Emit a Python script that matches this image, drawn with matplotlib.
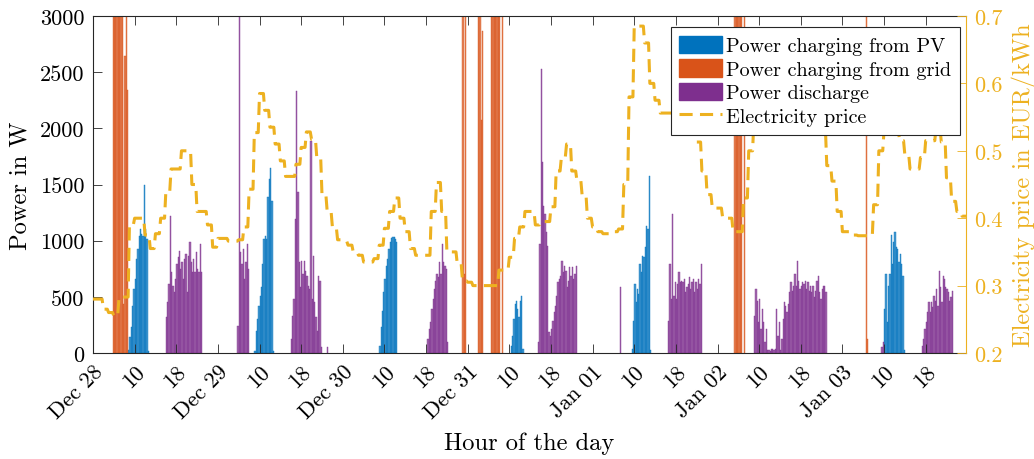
import numpy as np
import matplotlib
matplotlib.use("Agg")
import matplotlib.pyplot as plt
from matplotlib.colors import to_rgba
from matplotlib.patches import Patch
from matplotlib.lines import Line2D

plt.rcParams['font.family'] = ['cmr10', 'DejaVu Serif']
plt.rcParams['mathtext.fontset'] = 'cm'
plt.rcParams['axes.formatter.use_mathtext'] = True
plt.rcParams['font.size'] = 16

# ---------------- data ----------------
# time axis: hours since first tick (quarter-hour resolution, 7 days)
n_quarters = 672
tick_hours = [0, 8, 16, 24, 32, 40, 48, 56, 64, 72, 80, 88, 96, 104, 112, 120, 128, 136, 144, 152, 160]
tick_labels = ['Dec 28', '10', '18', 'Dec 29', '10', '18', 'Dec 30', '10', '18',
               'Dec 31', '10', '18', 'Jan 01', '10', '18', 'Jan 02', '10', '18',
               'Jan 03', '10', '18']

# Power charging from PV (W): cluster start hours and quarter-hour values
pv_starts = [6.75, 31.0, 55.0, 80.25, 103.5, 152.0]
pv_dec28 = [30, 140, 230, 420, 570, 660, 840, 930, 1045, 1100, 1060, 1045, 1500, 1100, 1015, 20]
pv_dec29 = [20, 200, 303, 420, 510, 585, 792, 1015, 1045, 1015, 1386, 1550, 1645, 1357, 20]
pv_dec30 = [65, 228, 377, 540, 659, 777, 837, 926, 985, 1020, 1030, 1035, 1015, 985]
pv_dec31 = [65, 154, 303, 436, 465, 392, 317, 465, 510, 35]
pv_jan01 = [35, 288, 614, 451, 570, 525, 792, 718, 866, 851, 940, 1133, 1104, 1578, 30]
pv_jan03 = [392, 703, 273, 600, 703, 1050, 792, 985, 1074, 940, 925, 807, 881, 792, 688, 30]

# Power charging from grid (W)
grid_starts = [3.75, 71.0, 74.0, 76.5, 123.25, 148.5]
grid_dec28 = [3400, 3400, 3400, 3400, 3400, 3400, 3400, 3400, 440, 2640, 3400, 2340]
grid_dec31a = [3400, 700, 3400]
grid_dec31b = [3400, 3400, 2070, 2870]
grid_dec31c = [3400, 3400, 3400, 3400, 3400, 3400, 3400, 0, 3400]
grid_jan02 = [3400, 3400, 3400, 3400, 3400, 3400, 0, 3400]
grid_jan03 = [3400, 125]

# Power discharge (W)
dis_starts = [14.0, 27.75, 38.0, 45.0, 64.25, 85.5, 101.25, 110.5, 127.0, 151.5, 159.25]
dis_dec28 = [320, 450, 614, 1222, 718, 600, 540, 659, 792, 851, 911, 748, 807, 659,
             837, 881, 540, 866, 985, 807, 718, 837, 718, 896, 748, 718, 970, 720]
dis_dec29a = [243, 3100, 896, 792, 925, 659, 807, 970, 748]
dis_dec29b = [125, 332, 480, 1193, 2335, 1430, 807, 585, 822, 703, 822, 733, 688, 600,
              570, 1890, 480, 866, 450, 318, 200, 688, 644, 50]
dis_dec29c = [50]
dis_dec30 = [125, 214, 273, 392, 480, 570, 640, 703, 673, 807, 700, 970, 807, 777, 748, 100]
dis_dec31 = [95, 970, 2530, 1697, 1311, 1237, 1074, 955, 184, 154, 214, 288, 362, 421, 510,
             629, 659, 688, 822, 718, 777, 733, 585, 644, 763, 688, 763, 659, 703, 777]
dis_jan01a = [585]
dis_jan01b = [288, 792, 480, 1237, 510, 629, 480, 614, 718, 629, 644, 629, 659, 540, 584,
              614, 673, 570, 629, 659, 540, 629, 570, 659, 614, 792]
dis_jan02 = [332, 570, 466, 273, 481, 214, 392, 273, 95, 214, 30, 30, 20, 35, 40, 30, 35,
             392, 154, 273, 30, 125, 300, 451, 421, 362, 436, 540, 629, 555, 600, 703,
             600, 822, 644, 570, 600, 629, 614, 644, 570, 629, 555, 600, 540, 600, 496,
             555, 644, 688, 540, 480, 570, 600, 600, 540]
dis_jan03a = [50, 95]
dis_jan03b = [65, 125, 214, 273, 362, 451, 362, 451, 407, 510, 466, 570, 421, 733, 585,
              451, 688, 659, 585, 570, 540, 466, 496, 555]

# Electricity price (EUR/kWh), hourly
price_dec28 = [0.28, 0.28, 0.265, 0.26, 0.255, 0.283, 0.283, 0.39, 0.40, 0.40, 0.375, 0.355,
               0.377, 0.40, 0.44, 0.473, 0.473, 0.50, 0.50, 0.45, 0.41, 0.41, 0.39, 0.357]
price_dec29 = [0.37, 0.37, 0.366, 0.366, 0.368, 0.387, 0.443, 0.527, 0.585, 0.56, 0.535, 0.51,
               0.485, 0.462, 0.462, 0.48, 0.505, 0.528, 0.517, 0.49, 0.435, 0.41, 0.387, 0.368]
price_dec30 = [0.366, 0.36, 0.35, 0.345, 0.335, 0.335, 0.34, 0.36, 0.385, 0.41, 0.43, 0.40,
               0.38, 0.355, 0.345, 0.345, 0.345, 0.41, 0.453, 0.41, 0.35, 0.35, 0.332, 0.307]
price_dec31 = [0.305, 0.30, 0.30, 0.30, 0.30, 0.30, 0.323, 0.323, 0.342, 0.37, 0.387, 0.41,
               0.41, 0.39, 0.395, 0.395, 0.417, 0.47, 0.49, 0.51, 0.47, 0.455, 0.433, 0.40]
price_jan01 = [0.387, 0.38, 0.377, 0.377, 0.38, 0.384, 0.45, 0.58, 0.685, 0.685, 0.66, 0.60,
               0.575, 0.556, 0.556, 0.556, 0.55, 0.55, 0.545, 0.53, 0.513, 0.47, 0.435, 0.415]
price_jan02 = [0.415, 0.40, 0.40, 0.38, 0.38, 0.43, 0.50, 0.55, 0.56, 0.56, 0.55, 0.545,
               0.535, 0.535, 0.535, 0.535, 0.535, 0.535, 0.535, 0.535, 0.53, 0.478, 0.455, 0.41]
price_jan03 = [0.38, 0.38, 0.375, 0.374, 0.374, 0.374, 0.42, 0.50, 0.53, 0.55, 0.53, 0.515,
               0.494, 0.473, 0.473, 0.49, 0.515, 0.515, 0.535, 0.513, 0.46, 0.425, 0.41, 0.403]

# ---------------- build series ----------------
def build(starts, clusters):
    arr = np.zeros(n_quarters)
    for s, vals in zip(starts, clusters):
        i0 = int(round(s * 4))
        arr[i0:i0 + len(vals)] = vals
    return arr

pv = build(pv_starts, [pv_dec28, pv_dec29, pv_dec30, pv_dec31, pv_jan01, pv_jan03])
grid = build(grid_starts, [grid_dec28, grid_dec31a, grid_dec31b, grid_dec31c, grid_jan02, grid_jan03])
dis = build(dis_starts, [dis_dec28, dis_dec29a, dis_dec29b, dis_dec29c, dis_dec30, dis_dec31,
                         dis_jan01a, dis_jan01b, dis_jan02, dis_jan03a, dis_jan03b])
price_hourly = np.array(price_dec28 + price_dec29 + price_dec30 + price_dec31 +
                        price_jan01 + price_jan02 + price_jan03)
price = np.repeat(price_hourly, 4)
t = np.arange(n_quarters) / 4.0

c_pv = '#0072BD'
c_grid = '#D95319'
c_dis = '#7E2F8E'
c_price = '#EDB120'

TICK_FS = 16
LABEL_FS = 17.6
LEGEND_FS = 14.5

# ---------------- plot ----------------
fig = plt.figure(figsize=(10.34, 4.6), dpi=100)
ax = fig.add_axes([93 / 1034, 106 / 460, 873 / 1034, 337 / 460])

for arr, col in [(pv, c_pv), (grid, c_grid), (dis, c_dis)]:
    m = arr > 0
    ax.bar(t[m], arr[m], width=0.25, align='edge',
           facecolor=to_rgba(col, 0.72), edgecolor=to_rgba(col, 0.95), linewidth=0.3)

ax.set_xlim(0, 167.75)
ax.set_ylim(0, 3000)
ax.set_yticks([0, 500, 1000, 1500, 2000, 2500, 3000])
ax.set_yticklabels(['0', '500', '1000', '1500', '2000', '2500', '3000'])
ax.set_xticks(tick_hours)
ax.set_xticklabels(tick_labels, rotation=45, ha='right', va='top', rotation_mode='anchor')
ax.tick_params(axis='both', direction='in', length=6.5, width=0.6, colors='#262626',
               labelcolor='black', labelsize=TICK_FS)
ax.tick_params(axis='x', top=True, pad=6)
ax.tick_params(axis='y', right=False, pad=6)
for s in ['left', 'top', 'bottom']:
    ax.spines[s].set_color('#262626')
    ax.spines[s].set_linewidth(0.8)
ax.spines['right'].set_visible(False)
ax.set_ylabel('Power in W', fontsize=LABEL_FS, labelpad=6)
ax.set_xlabel('Hour of the day', fontsize=LABEL_FS, labelpad=7)

ax2 = ax.twinx()
ax2.plot(t, price, color=c_price, linewidth=2.2, linestyle=(0, (4.3, 2.4)))
ax2.set_ylim(0.2, 0.7)
ax2.set_yticks([0.2, 0.3, 0.4, 0.5, 0.6, 0.7])
ax2.set_yticklabels(['0.2', '0.3', '0.4', '0.5', '0.6', '0.7'])
ax2.tick_params(axis='y', direction='in', length=6.5, width=0.6, colors=c_price,
                labelcolor=c_price, labelsize=TICK_FS, pad=6)
for s in ['left', 'top', 'bottom']:
    ax2.spines[s].set_visible(False)
ax2.spines['right'].set_color(c_price)
ax2.spines['right'].set_linewidth(0.8)
ax2.set_ylabel('Electricity price in EUR/kWh', color=c_price, fontsize=LABEL_FS, labelpad=6)

handles = [Patch(facecolor=c_pv, edgecolor=c_pv),
           Patch(facecolor=c_grid, edgecolor=c_grid),
           Patch(facecolor=c_dis, edgecolor=c_dis),
           Line2D([0], [0], color=c_price, linewidth=2.2, linestyle=(0, (4.3, 2.4)))]
labels = ['Power charging from PV', 'Power charging from grid', 'Power discharge',
          'Electricity price']
leg = ax2.legend(handles, labels, loc='upper right', bbox_to_anchor=(0.993, 0.967),
                 borderaxespad=0, fancybox=False, framealpha=1, edgecolor='#262626',
                 fontsize=LEGEND_FS, handlelength=2.15, handleheight=0.95, handletextpad=0.2,
                 labelspacing=0.2, borderpad=0.42)
leg.get_frame().set_linewidth(0.8)

fig.savefig('out.png', dpi=100)
